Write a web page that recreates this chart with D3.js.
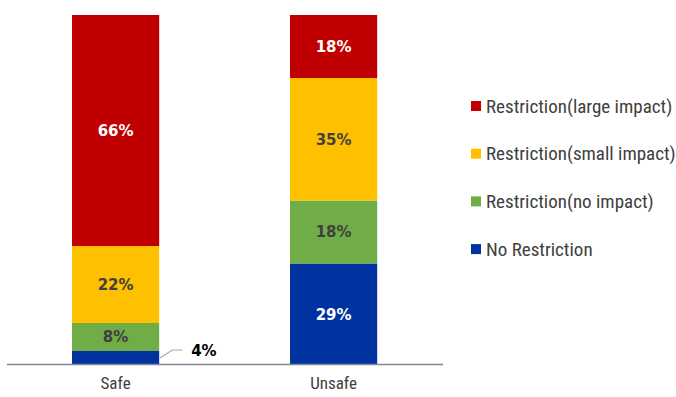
<!DOCTYPE html>
<html><head><meta charset="utf-8">
<script src="https://cdn.jsdelivr.net/npm/d3@7"></script>
<style>
body{margin:0;background:#fff;}
text{font-family:"Roboto Condensed","Liberation Sans Narrow","Liberation Sans",sans-serif;}
text.lbl{font-family:"DejaVu Sans",Verdana,sans-serif;}
</style></head>
<body><svg id="c" width="676" height="397"></svg>
<script>
const categories = ["Safe", "Unsafe"];
const seriesNames = ["No Restriction", "Restriction(no impact)", "Restriction(small impact)", "Restriction(large impact)"];
const noRestriction = [4, 29];
const noImpact = [8, 18];
const smallImpact = [22, 35];
const largeImpact = [66, 18];
const colors = ["#0033A0", "#70AD47", "#FFC000", "#C00000"];
const labelColors = ["#ffffff", "#404040", "#404040", "#ffffff"];

const svg = d3.select("#c");
const x = d3.scaleBand().domain(categories).range([6.6, 442.6]).paddingInner(0.6).paddingOuter(0.3);
const y = d3.scaleLinear().domain([0, 100]).range([365, 15]);

const rows = categories.map((c, i) => ({cat: c, s0: noRestriction[i], s1: noImpact[i], s2: smallImpact[i], s3: largeImpact[i]}));
const stack = d3.stack().keys(["s0", "s1", "s2", "s3"])(rows);

stack.forEach((layer, li) => {
  const g = svg.append("g");
  g.selectAll("rect").data(layer).join("rect")
    .attr("x", d => x(d.data.cat))
    .attr("width", x.bandwidth())
    .attr("y", d => y(d[1]))
    .attr("height", d => y(d[0]) - y(d[1]))
    .attr("fill", colors[li]);
  g.selectAll("text").data(layer.filter(d => d[1] - d[0] >= 6)).join("text")
    .attr("class", "lbl")
    .attr("x", d => x(d.data.cat) + x.bandwidth() / 2)
    .attr("y", d => (y(d[0]) + y(d[1])) / 2)
    .attr("dy", "0.36em")
    .attr("text-anchor", "middle")
    .attr("font-weight", "bold")
    .attr("font-size", 15)
    .attr("fill", labelColors[li])
    .text(d => (d[1] - d[0]) + "%");
});

// small value callout
stack[0].filter(d => d[1] - d[0] < 6).forEach(d => {
  const xr = x(d.data.cat) + x.bandwidth();
  const ym = (y(d[0]) + y(d[1])) / 2;
  svg.append("polyline")
    .attr("points", `${xr+1},${ym} ${xr+13},${ym-8} ${xr+23},${ym-8}`)
    .attr("fill", "none").attr("stroke", "#A6A6A6").attr("stroke-width", 1.2);
  svg.append("text").attr("class", "lbl")
    .attr("x", xr + 32).attr("y", ym - 7).attr("dy", "0.36em")
    .attr("font-weight", "bold").attr("font-size", 15).attr("fill", "#000")
    .text((d[1] - d[0]) + "%");
});

// axis
const axis = svg.append("g").attr("transform", "translate(0,364)")
  .call(d3.axisBottom(x).tickSize(0).tickPadding(13));
axis.select(".domain").attr("stroke", "#808896").attr("stroke-width", 1.3).attr("d", "M7,0.5H443");
axis.selectAll("text").attr("font-size", 17).attr("fill", "#404040")
  .style("font-family", "'Roboto Condensed','Liberation Sans Narrow','Liberation Sans',sans-serif");

// legend
const legendOrder = [3, 2, 1, 0];
const lg = svg.append("g");
legendOrder.forEach((si, k) => {
  const yy = 106 + k * 47.7;
  lg.append("rect").attr("x", 471).attr("y", yy - 5).attr("width", 10).attr("height", 10).attr("fill", colors[si]);
  lg.append("text").attr("x", 486).attr("y", yy).attr("dy", "0.35em")
    .attr("font-size", 19).attr("fill", "#404040").text(seriesNames[si]);
});
</script></body></html>
